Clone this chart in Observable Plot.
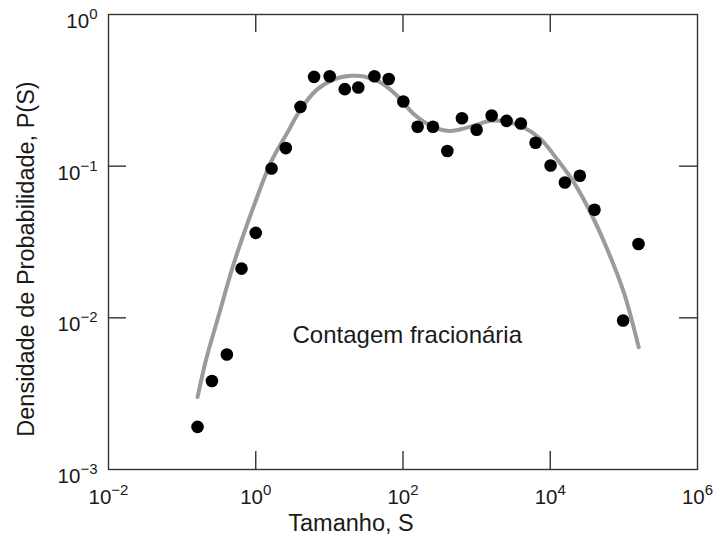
<!DOCTYPE html>
<html>
<head>
<meta charset="utf-8">
<script src="https://cdn.jsdelivr.net/npm/d3@7"></script>
<script src="https://cdn.jsdelivr.net/npm/@observablehq/plot@0.6"></script>
<style>
  html, body { margin: 0; padding: 0; background: #fff; }
  #chart { width: 716px; height: 536px; }
</style>
</head>
<body>
<div id="chart"></div>
<script>
// Data points (size S, probability density P)
const S = [0.162, 0.254, 0.405, 0.641, 1.0, 1.64, 2.56, 4.05, 6.2, 10.1, 16.2, 24.7, 40.9, 64, 101, 158, 255, 400, 632, 1000, 1600, 2550, 3990, 6320, 10100, 15800, 25200, 39900, 97700, 158000];
const P = [0.00191, 0.00383, 0.00573, 0.0211, 0.0363, 0.0966, 0.1316, 0.246, 0.388, 0.392, 0.322, 0.330, 0.392, 0.376, 0.267, 0.182, 0.182, 0.126, 0.207, 0.174, 0.216, 0.199, 0.191, 0.1426, 0.101, 0.078, 0.0865, 0.0516, 0.0096, 0.0307];

// Fitted curve (gray)
const fitS = [0.162, 0.210, 0.318, 0.484, 0.662, 1.00, 1.60, 2.70, 4.09, 6.90, 11.6, 19.5, 29.6, 49.8, 83.9, 141, 238, 400, 607, 918, 1550, 2610, 4390, 7380, 12400, 20900, 35200, 59300, 99800, 159000];
const fitP = [0.0030, 0.00524, 0.0106, 0.0215, 0.0340, 0.0592, 0.106, 0.167, 0.238, 0.322, 0.374, 0.394, 0.390, 0.356, 0.290, 0.220, 0.185, 0.171, 0.175, 0.185, 0.199, 0.196, 0.180, 0.151, 0.111, 0.0782, 0.0495, 0.0284, 0.0147, 0.0064];

// Axes
const xTickLabels = [1e-2, 1e0, 1e2, 1e4, 1e6];
const yTickLabels = [1e-3, 1e-2, 1e-1, 1e0];
const xTickMarks = [1e0, 1e2, 1e4];
const yTickMarks = [1e-2, 1e-1];
const xTitle = "Tamanho, S";
const yTitle = "Densidade de Probabilidade, P(S)";
const annotation = "Contagem fracionária";
const annotationAt = {S: 3.16, P: 0.00769};

const points = S.map((s, i) => ({S: s, P: P[i]}));
const fit = fitS.map((s, i) => ({S: s, P: fitP[i]}));
const expFmt = d => String(Math.round(Math.log10(d)));

const W = 716, H = 536, mL = 108, mR = 19, mT = 14, mB = 67;
const innerW = W - mL - mR, innerH = H - mT - mB;
const tickLen = 18;
const axisColor = "#333";

const chart = Plot.plot({
  width: W, height: H,
  marginLeft: mL, marginRight: mR, marginTop: mT, marginBottom: mB,
  x: {type: "log", domain: [1e-2, 1e6]},
  y: {type: "log", domain: [1e-3, 1]},
  style: {fontFamily: "'Liberation Sans', Arial, Helvetica, sans-serif", fontSize: "20px", background: "#fff", color: "#1a1a1a"},
  marks: [
    Plot.frame({stroke: axisColor, strokeWidth: 1.4}),
    Plot.tickX(xTickMarks, {x: d => d, insetTop: innerH - tickLen, stroke: axisColor, strokeWidth: 1.4}),
    Plot.tickX(xTickMarks, {x: d => d, insetBottom: innerH - tickLen, stroke: axisColor, strokeWidth: 1.4}),
    Plot.tickY(yTickMarks, {y: d => d, insetRight: innerW - tickLen, stroke: axisColor, strokeWidth: 1.4}),
    Plot.tickY(yTickMarks, {y: d => d, insetLeft: innerW - tickLen, stroke: axisColor, strokeWidth: 1.4}),
    Plot.axisX(xTickLabels, {anchor: "bottom", tickSize: 0, tickPadding: 20, fontSize: 20.5, tickFormat: expFmt, label: null}),
    Plot.axisY(yTickLabels, {anchor: "left", tickSize: 0, tickPadding: 11, dy: 7, fontSize: 20.5, tickFormat: expFmt, label: null}),
    Plot.line(fit, {x: "S", y: "P", stroke: "#9b9b9b", strokeWidth: 4, curve: "catmull-rom"}),
    Plot.dot(points, {x: "S", y: "P", r: 6.3, fill: "#000", stroke: "none"}),
    Plot.text([annotation], {x: () => annotationAt.S, y: () => annotationAt.P, text: d => d, textAnchor: "start", fontSize: 24, fill: "#1a1a1a"}),
    Plot.text([xTitle], {frameAnchor: "bottom", textAnchor: "middle", lineAnchor: "top", dy: 45, dx: -52, text: d => d, fontSize: 23.5, fill: "#1a1a1a"}),
    Plot.text([yTitle], {frameAnchor: "left", textAnchor: "middle", rotate: -90, lineAnchor: "bottom", dx: -75, dy: 17, text: d => d, fontSize: 23.5, fill: "#1a1a1a"})
  ]
});

// Render tick labels as 10 with superscript exponent
d3.select(chart).selectAll('g[aria-label="x-axis tick label"] text, g[aria-label="y-axis tick label"] text').each(function() {
  const t = d3.select(this);
  const e = t.text().replace("-", "\u2212");
  t.text("");
  t.attr("font-size", 20.5);
  t.append("tspan").text("10");
  t.append("tspan").attr("dy", -9).attr("font-size", 15).text(e);
});

document.getElementById("chart").appendChild(chart);
</script>
</body>
</html>
